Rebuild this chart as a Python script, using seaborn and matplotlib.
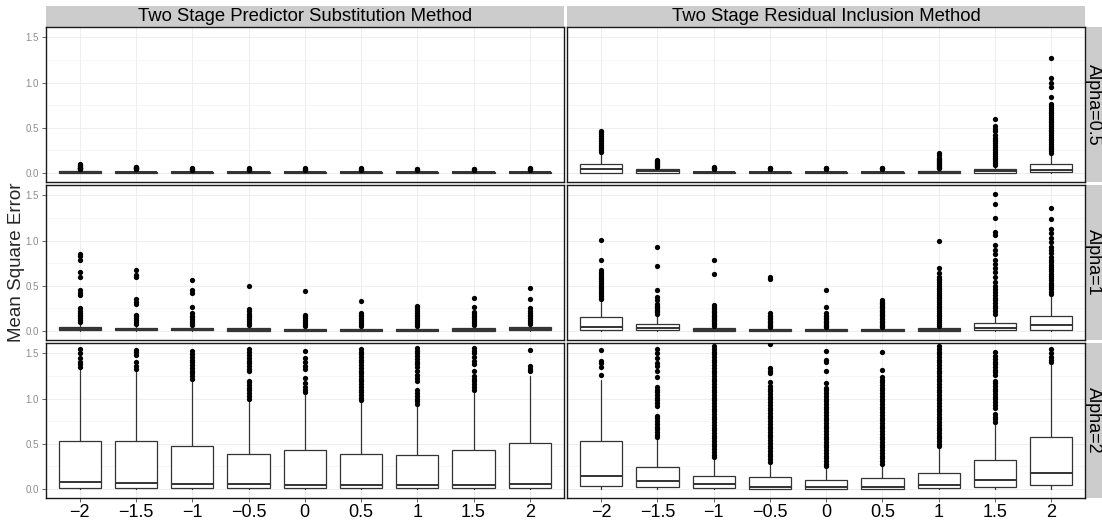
import pandas as pd
import seaborn as sns
import matplotlib.pyplot as plt
from matplotlib.patches import Rectangle

categories = ["-2", "-1.5", "-1", "-0.5", "0", "0.5", "1", "1.5", "2"]
tick_labels = ["\u22122", "\u22121.5", "\u22121", "\u22120.5", "0", "0.5", "1", "1.5", "2"]
methods = ["Two Stage Predictor Substitution Method", "Two Stage Residual Inclusion Method"]
alphas = ["Alpha=0.5", "Alpha=1", "Alpha=2"]

# box stats per category: (whisker low, q1, median, q3, whisker high)
ps_05_box = [(0.0, 0.003, 0.008, 0.018, 0.038), (0.0, 0.003, 0.008, 0.016, 0.035),
             (0.0, 0.003, 0.008, 0.016, 0.034), (0.0, 0.003, 0.008, 0.016, 0.034),
             (0.0, 0.003, 0.007, 0.015, 0.033), (0.0, 0.003, 0.007, 0.015, 0.033),
             (0.0, 0.003, 0.007, 0.015, 0.033), (0.0, 0.003, 0.007, 0.015, 0.033),
             (0.0, 0.003, 0.008, 0.016, 0.035)]
ps_05_out = [[0.04, 0.045, 0.05, 0.055, 0.06, 0.07, 0.08, 0.09, 0.1],
             [0.04, 0.045, 0.05, 0.055, 0.06, 0.065, 0.07],
             [0.038, 0.042, 0.046, 0.05],
             [0.038, 0.042, 0.046, 0.05],
             [0.038, 0.042, 0.046, 0.05],
             [0.038, 0.042, 0.046, 0.05],
             [0.038, 0.042, 0.046],
             [0.038, 0.042, 0.046],
             [0.038, 0.042, 0.046, 0.05]]

ri_05_box = [(0.0, 0.005, 0.04, 0.096, 0.22), (0.0, 0.004, 0.02, 0.04, 0.065),
             (0.0, 0.002, 0.008, 0.016, 0.035), (0.0, 0.002, 0.008, 0.016, 0.035),
             (0.0, 0.002, 0.008, 0.016, 0.035), (0.0, 0.002, 0.008, 0.016, 0.035),
             (0.0, 0.003, 0.01, 0.02, 0.045), (0.0, 0.005, 0.018, 0.045, 0.08),
             (0.0, 0.01, 0.035, 0.10, 0.21)]
ri_05_out = [[0.23, 0.25, 0.27, 0.29, 0.31, 0.33, 0.35, 0.37, 0.39, 0.41, 0.43, 0.45, 0.46],
             [0.07, 0.08, 0.09, 0.1, 0.11, 0.12, 0.13, 0.14],
             [0.04, 0.05, 0.06, 0.07],
             [0.04, 0.05, 0.06],
             [0.04, 0.05, 0.06],
             [0.04, 0.05, 0.06],
             [0.05, 0.06, 0.07, 0.08, 0.09, 0.1, 0.11, 0.12, 0.13, 0.14, 0.15, 0.17, 0.2, 0.22],
             [0.09, 0.11, 0.13, 0.15, 0.17, 0.19, 0.21, 0.23, 0.25, 0.27, 0.29, 0.31, 0.33,
              0.35, 0.37, 0.39, 0.42, 0.46, 0.49, 0.52, 0.6],
             [0.22, 0.24, 0.26, 0.28, 0.30, 0.32, 0.34, 0.36, 0.38, 0.40, 0.42, 0.44, 0.46,
              0.48, 0.50, 0.52, 0.54, 0.56, 0.58, 0.60, 0.62, 0.64, 0.66, 0.68, 0.70, 0.72,
              0.74, 0.76, 0.84, 0.95, 0.99, 1.05, 1.27]]

ps_1_box = [(0.0, 0.008, 0.02, 0.045, 0.08), (0.0, 0.006, 0.018, 0.035, 0.07),
            (0.0, 0.006, 0.016, 0.032, 0.06), (0.0, 0.005, 0.015, 0.03, 0.06),
            (0.0, 0.004, 0.012, 0.025, 0.05), (0.0, 0.004, 0.012, 0.025, 0.05),
            (0.0, 0.004, 0.013, 0.027, 0.055), (0.0, 0.005, 0.015, 0.03, 0.065),
            (0.0, 0.006, 0.018, 0.04, 0.07)]
ps_1_out = [[0.1, 0.12, 0.14, 0.16, 0.18, 0.2, 0.22, 0.25, 0.4, 0.42, 0.45, 0.6, 0.65, 0.79, 0.83, 0.85],
            [0.08, 0.1, 0.12, 0.14, 0.16, 0.18, 0.3, 0.32, 0.35, 0.6, 0.62, 0.67],
            [0.07, 0.09, 0.11, 0.13, 0.15, 0.17, 0.2, 0.27, 0.42, 0.45, 0.56],
            [0.07, 0.09, 0.11, 0.13, 0.15, 0.17, 0.19, 0.22, 0.24, 0.5],
            [0.06, 0.08, 0.1, 0.12, 0.14, 0.16, 0.18, 0.44],
            [0.06, 0.08, 0.1, 0.12, 0.14, 0.16, 0.18, 0.2, 0.33],
            [0.06, 0.08, 0.1, 0.12, 0.14, 0.16, 0.18, 0.2, 0.22, 0.24, 0.26, 0.28],
            [0.07, 0.09, 0.11, 0.13, 0.15, 0.17, 0.19, 0.21, 0.27, 0.36],
            [0.08, 0.1, 0.12, 0.14, 0.16, 0.18, 0.2, 0.22, 0.25, 0.35, 0.47]]

ri_1_box = [(0.0, 0.01, 0.048, 0.15, 0.34), (0.0, 0.006, 0.03, 0.075, 0.18),
            (0.0, 0.005, 0.015, 0.03, 0.05), (0.0, 0.003, 0.01, 0.02, 0.035),
            (0.0, 0.003, 0.01, 0.02, 0.035), (0.0, 0.003, 0.01, 0.02, 0.035),
            (0.0, 0.004, 0.013, 0.03, 0.055), (0.0, 0.006, 0.035, 0.085, 0.18),
            (0.0, 0.01, 0.063, 0.17, 0.40)]
ri_1_out = [[0.35, 0.37, 0.39, 0.41, 0.43, 0.45, 0.47, 0.49, 0.51, 0.53, 0.55, 0.57, 0.59,
             0.61, 0.63, 0.65, 0.68, 0.79, 1.01],
            [0.19, 0.205, 0.22, 0.235, 0.25, 0.265, 0.28, 0.30, 0.34, 0.38, 0.45, 0.72, 0.93],
            [0.06, 0.075, 0.09, 0.105, 0.12, 0.135, 0.15, 0.165, 0.18, 0.195, 0.21, 0.225,
             0.24, 0.26, 0.29, 0.63, 0.78],
            [0.04, 0.055, 0.07, 0.085, 0.1, 0.115, 0.13, 0.145, 0.16, 0.17, 0.2, 0.58, 0.6],
            [0.04, 0.055, 0.07, 0.085, 0.1, 0.115, 0.13, 0.145, 0.16, 0.17, 0.2, 0.26, 0.45],
            [0.04, 0.055, 0.07, 0.085, 0.1, 0.115, 0.13, 0.145, 0.16, 0.175, 0.19, 0.205,
             0.22, 0.235, 0.25, 0.265, 0.28, 0.295, 0.31, 0.325, 0.34],
            [0.06, 0.08, 0.1, 0.12, 0.14, 0.16, 0.18, 0.2, 0.22, 0.24, 0.26, 0.28, 0.3, 0.32,
             0.34, 0.36, 0.38, 0.4, 0.42, 0.44, 0.46, 0.48, 0.5, 0.52, 0.54, 0.56, 0.58, 0.6,
             0.64, 0.7, 1.0],
            [0.19, 0.22, 0.25, 0.28, 0.31, 0.34, 0.37, 0.4, 0.43, 0.46, 0.5, 0.54, 0.6, 0.65,
             0.7, 0.74, 0.79, 0.85, 0.9, 0.95, 1.06, 1.1, 1.25, 1.41, 1.51],
            [0.41, 0.435, 0.46, 0.485, 0.51, 0.535, 0.56, 0.585, 0.61, 0.635, 0.66, 0.685,
             0.71, 0.735, 0.76, 0.78, 0.82, 0.86, 0.9, 0.93, 0.98, 1.03, 1.08, 1.13, 1.24,
             1.36]]

ps_2_box = [(0.0, 0.015, 0.08, 0.53, 1.33), (0.0, 0.015, 0.07, 0.535, 1.31),
            (0.0, 0.012, 0.055, 0.48, 1.2), (0.0, 0.012, 0.055, 0.39, 1.0),
            (0.0, 0.012, 0.045, 0.43, 1.05), (0.0, 0.012, 0.045, 0.39, 0.965),
            (0.0, 0.01, 0.04, 0.38, 0.93), (0.0, 0.012, 0.045, 0.43, 1.07),
            (0.0, 0.012, 0.05, 0.51, 1.25)]
ps_2_out = [[1.35, 1.38, 1.41, 1.45, 1.5, 1.55],
            [1.33, 1.36, 1.4, 1.48, 1.51, 1.54],
            [1.22, 1.25, 1.28, 1.31, 1.34, 1.37, 1.4, 1.43, 1.46, 1.49, 1.53],
            [1.0, 1.03, 1.06, 1.09, 1.12, 1.15, 1.18, 1.2, 1.3, 1.33, 1.36, 1.39, 1.42,
             1.45, 1.48, 1.51, 1.55],
            [1.07, 1.1, 1.13, 1.17, 1.23, 1.33, 1.36, 1.4, 1.45, 1.53],
            [0.98, 1.01, 1.04, 1.07, 1.1, 1.13, 1.16, 1.19, 1.22, 1.25, 1.28, 1.31, 1.34,
             1.37, 1.4, 1.43, 1.46, 1.49, 1.52, 1.55],
            [0.94, 0.97, 1.0, 1.03, 1.06, 1.1, 1.2, 1.23, 1.26, 1.3, 1.35, 1.38, 1.41, 1.44,
             1.47, 1.5, 1.53, 1.56],
            [1.1, 1.13, 1.16, 1.19, 1.22, 1.25, 1.3, 1.38, 1.42, 1.46, 1.5, 1.53, 1.56],
            [1.3, 1.33, 1.36, 1.54]]

ri_2_box = [(0.0, 0.033, 0.14, 0.53, 1.21), (0.0, 0.02, 0.09, 0.24, 0.55),
            (0.0, 0.01, 0.05, 0.14, 0.34), (0.0, 0.005, 0.025, 0.13, 0.28),
            (0.0, 0.005, 0.02, 0.10, 0.23), (0.0, 0.005, 0.02, 0.12, 0.26),
            (0.0, 0.01, 0.04, 0.18, 0.45), (0.0, 0.02, 0.10, 0.32, 0.72),
            (0.0, 0.04, 0.18, 0.58, 1.37)]
ri_2_out = [[1.26, 1.35, 1.39, 1.42, 1.54],
            [0.57, 0.6, 0.63, 0.66, 0.69, 0.72, 0.75, 0.78, 0.81, 0.92, 0.95, 0.98, 1.01,
             1.04, 1.07, 1.1, 1.13, 1.24, 1.31, 1.36, 1.39, 1.45, 1.5, 1.55],
            [0.35, 0.38, 0.41, 0.44, 0.47, 0.5, 0.53, 0.56, 0.59, 0.62, 0.65, 0.68, 0.71,
             0.74, 0.77, 0.8, 0.83, 0.86, 0.89, 0.92, 0.95, 0.98, 1.01, 1.04, 1.07, 1.1,
             1.13, 1.16, 1.19, 1.22, 1.25, 1.28, 1.31, 1.34, 1.37, 1.4, 1.43, 1.46, 1.49,
             1.52, 1.55, 1.58],
            [0.3, 0.33, 0.36, 0.39, 0.42, 0.45, 0.48, 0.51, 0.54, 0.57, 0.6, 0.63, 0.66,
             0.69, 0.72, 0.75, 0.78, 0.81, 0.84, 0.87, 0.9, 0.93, 0.96, 0.99, 1.02, 1.05,
             1.08, 1.11, 1.14, 1.18, 1.28, 1.31, 1.34, 1.6],
            [0.25, 0.28, 0.31, 0.34, 0.37, 0.4, 0.43, 0.46, 0.49, 0.52, 0.55, 0.58, 0.61,
             0.64, 0.67, 0.7, 0.73, 0.76, 0.79, 0.82, 0.85, 0.88, 0.91, 0.94, 0.97, 1.0,
             1.03, 1.06, 1.09, 1.12, 1.17, 1.31, 1.4, 1.43, 1.53],
            [0.28, 0.31, 0.34, 0.37, 0.4, 0.43, 0.46, 0.49, 0.52, 0.55, 0.58, 0.61, 0.64,
             0.67, 0.7, 0.73, 0.76, 0.79, 0.82, 0.85, 0.88, 0.91, 0.94, 0.97, 1.0, 1.03,
             1.06, 1.09, 1.12, 1.15, 1.18, 1.21, 1.24, 1.32, 1.52],
            [0.47, 0.5, 0.53, 0.56, 0.59, 0.62, 0.65, 0.68, 0.71, 0.74, 0.77, 0.8, 0.83,
             0.86, 0.89, 0.92, 0.95, 0.98, 1.01, 1.04, 1.07, 1.1, 1.13, 1.16, 1.19, 1.22,
             1.25, 1.28, 1.31, 1.34, 1.37, 1.4, 1.43, 1.46, 1.49, 1.52, 1.55, 1.58],
            [0.74, 0.77, 0.8, 0.83, 0.9, 0.93, 0.96, 0.99, 1.02, 1.05, 1.08, 1.11, 1.14,
             1.17, 1.2, 1.26, 1.29, 1.32, 1.35, 1.38, 1.41, 1.44, 1.47, 1.52],
            [1.4, 1.43, 1.46, 1.5, 1.55]]

panels = [[(ps_05_box, ps_05_out), (ri_05_box, ri_05_out)],
          [(ps_1_box, ps_1_out), (ri_1_box, ri_1_out)],
          [(ps_2_box, ps_2_out), (ri_2_box, ri_2_out)]]

sns.set_theme(style="white")
plt.rcParams["font.family"] = ["Liberation Sans", "DejaVu Sans"]

W, H = 1102, 523
fig, axes = plt.subplots(3, 2, figsize=(W / 100, H / 100), dpi=100, sharex=True, sharey=True)
fig.subplots_adjust(left=46 / W, right=1085 / W, top=1 - 27 / H, bottom=1 - 498 / H,
                    wspace=0.0077, hspace=0.0194)

line_col = "#333333"
for r in range(3):
    for c in range(2):
        ax = axes[r, c]
        boxes, outs = panels[r][c]
        stats = [dict(whislo=b[0], q1=b[1], med=b[2], q3=b[3], whishi=b[4], fliers=[])
                 for b in boxes]
        ax.bxp(stats, positions=range(len(boxes)), widths=0.75, showfliers=False,
               showcaps=False, patch_artist=True, manage_ticks=False,
               boxprops=dict(facecolor="white", edgecolor=line_col, linewidth=0.9),
               medianprops=dict(color=line_col, linewidth=1.4),
               whiskerprops=dict(color=line_col, linewidth=0.9))
        df = pd.DataFrame({
            "x": [cat for cat, vals in zip(categories, outs) for _ in vals],
            "y": [v for vals in outs for v in vals],
        })
        sns.stripplot(data=df, x="x", y="y", order=categories, jitter=False,
                      color="black", size=3.8, linewidth=0, ax=ax)
        ax.set_xlabel("")
        ax.set_ylabel("")
        ax.set_xticks(range(len(categories)))
        ax.set_xticklabels(tick_labels)
        ax.set_xlim(-0.6, len(categories) - 0.4)
        ax.set_ylim(-0.1, 1.615)
        ax.set_yticks([0, 0.5, 1.0, 1.5])
        ax.set_yticklabels(["0.0", "0.5", "1.0", "1.5"])
        ax.set_yticks([0.25, 0.75, 1.25], minor=True)
        ax.set_axisbelow(True)
        ax.grid(True, which="major", color="#ebebeb", linewidth=0.6)
        ax.grid(True, which="minor", axis="y", color="#f3f3f3", linewidth=0.5)
        for sp in ax.spines.values():
            sp.set_visible(True)
            sp.set_color("#1a1a1a")
            sp.set_linewidth(1.0)
        ax.tick_params(axis="y", which="major", labelsize=7, labelcolor="#8c8c8c",
                       color="#4d4d4d", length=3 if c == 0 else 0, width=0.6,
                       left=True, labelleft=(c == 0), pad=2)
        ax.tick_params(axis="y", which="minor", length=0)
        ax.tick_params(axis="x", labelsize=13, labelcolor="black", color="#4d4d4d",
                       length=3 if r == 2 else 0, width=0.6, bottom=True,
                       labelbottom=(r == 2), pad=1)

        if r == 0:
            ax.add_patch(Rectangle((0, 1), 1, 21 / 155, transform=ax.transAxes,
                                   facecolor="#cccccc", edgecolor="none", clip_on=False))
            ax.text(0.5, 1 + 10.5 / 155, methods[c], transform=ax.transAxes,
                    ha="center", va="center", fontsize=13.3, color="black")
        if c == 1:
            ax.add_patch(Rectangle((1, 0), 17 / 517.5, 1, transform=ax.transAxes,
                                   facecolor="#cccccc", edgecolor="none", clip_on=False))
            ax.text(1 + 8.5 / 517.5, 0.5, alphas[r], transform=ax.transAxes,
                    ha="center", va="center", rotation=-90, fontsize=13, color="black")

fig.text(0.015, (1 - 262.5 / H), "Mean Square Error", rotation=90, ha="center",
         va="center", fontsize=13.5)

fig.savefig("out.png", dpi=100)
